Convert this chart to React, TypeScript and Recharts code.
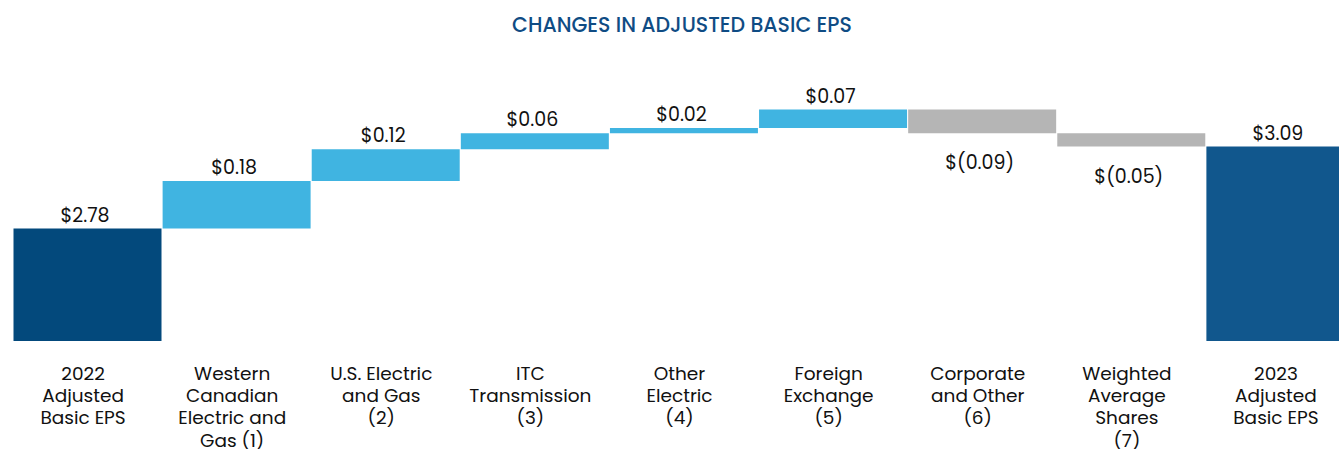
import React from "react";
import { BarChart, Bar, XAxis, YAxis, Cell, LabelList } from "recharts";

const categories = [
  "2022 Adjusted Basic EPS",
  "Western Canadian Electric and Gas (1)",
  "U.S. Electric and Gas (2)",
  "ITC Transmission (3)",
  "Other Electric (4)",
  "Foreign Exchange (5)",
  "Corporate and Other (6)",
  "Weighted Average Shares (7)",
  "2023 Adjusted Basic EPS",
];

const tickLines = [
  ["2022", "Adjusted", "Basic EPS"],
  ["Western", "Canadian", "Electric and", "Gas (1)"],
  ["U.S. Electric", "and Gas", "(2)"],
  ["ITC", "Transmission", "(3)"],
  ["Other", "Electric", "(4)"],
  ["Foreign", "Exchange", "(5)"],
  ["Corporate", "and Other", "(6)"],
  ["Weighted", "Average", "Shares", "(7)"],
  ["2023", "Adjusted", "Basic EPS"],
];

const values = [2.78, 0.18, 0.12, 0.06, 0.02, 0.07, -0.09, -0.05, 3.09];
const isTotal = [true, false, false, false, false, false, false, false, true];
const valueLabels = ["$2.78", "$0.18", "$0.12", "$0.06", "$0.02", "$0.07", "$(0.09)", "$(0.05)", "$3.09"];

const AXIS_MIN = 2.355;
const AXIS_MAX = 3.402;

const COLOR_START = "#03497C";
const COLOR_END = "#11578D";
const COLOR_UP = "#40B4E1";
const COLOR_DOWN = "#B5B5B5";

const FONT = "Poppins, 'Open Sans', sans-serif";

let running = 0;
const data = categories.map((name, i) => {
  let range: [number, number];
  if (isTotal[i]) {
    range = [AXIS_MIN, values[i]];
    running = values[i];
  } else {
    const start = running;
    const end = running + values[i];
    range = [Math.min(start, end), Math.max(start, end)];
    running = end;
  }
  return { name, range, value: values[i], idx: i };
});

const colorFor = (i: number) => {
  if (i === 0) return COLOR_START;
  if (i === categories.length - 1) return COLOR_END;
  return values[i] >= 0 ? COLOR_UP : COLOR_DOWN;
};

const ValueLabel = (props: any) => {
  const { x, y, width, height, index } = props;
  const v = values[index];
  const cx = x + width / 2 - 2.5;
  const ty = v >= 0 || isTotal[index] ? y - 7 : y + height + 36;
  return (
    <text x={cx} y={ty} textAnchor="middle" fontFamily={FONT} fontSize={19} fill="#111">
      {valueLabels[index]}
    </text>
  );
};

const MultiTick = (props: any) => {
  const { x, y, index } = props;
  const lines = tickLines[index] || [];
  return (
    <g>
      {lines.map((l, k) => (
        <text
          key={k}
          x={x - 4.5}
          y={y + 30.5 + k * 22.4}
          textAnchor="middle"
          fontFamily={FONT}
          fontSize={18.5}
          fill="#111"
        >
          {l}
        </text>
      ))}
    </g>
  );
};

export default function App() {
  return (
    <div
      style={{
        position: "fixed",
        left: 0,
        top: 0,
        width: 1339,
        height: 449,
        overflow: "hidden",
        background: "#fff",
      }}
    >
      <div
        style={{
          position: "absolute",
          left: 0,
          top: 14.5,
          width: 1364,
          textAlign: "center",
          fontFamily: FONT,
          fontSize: 20.5,
          lineHeight: "20px",
          fontWeight: 500,
          color: "#0F4C84",
        }}
      >
        CHANGES IN ADJUSTED BASIC EPS
      </div>
      <div style={{ position: "absolute", left: 0, top: 0 }}>
        <BarChart
          width={1360}
          height={449}
          data={data}
          margin={{ top: 64, right: 5, bottom: 0, left: 13 }}
          barCategoryGap={0.5}
        >
          <XAxis
            dataKey="name"
            axisLine={false}
            tickLine={false}
            interval={0}
            height={108}
            tick={<MultiTick />}
          />
          <YAxis hide domain={[AXIS_MIN, AXIS_MAX]} allowDataOverflow />
          <Bar dataKey="range" isAnimationActive={false}>
            {data.map((d, i) => (
              <Cell key={i} fill={colorFor(i)} />
            ))}
            <LabelList dataKey="range" content={<ValueLabel />} />
          </Bar>
        </BarChart>
      </div>
    </div>
  );
}
